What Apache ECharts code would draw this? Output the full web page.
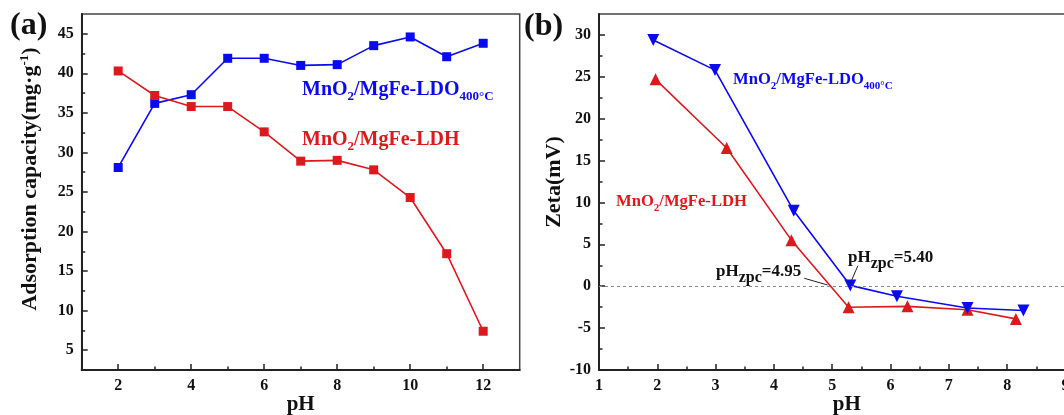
<!DOCTYPE html>
<html>
<head>
<meta charset="utf-8">
<script src="https://cdn.jsdelivr.net/npm/echarts@6/dist/echarts.min.js"></script>
<style>
html, body { margin: 0; padding: 0; background: #fff; }
#chart { width: 1064px; height: 415px; }
</style>
</head>
<body>
<div id="chart"></div>
<script>
// (a) adsorption capacity vs pH
const pHAdsorption = [2, 3, 4, 5, 6, 7, 8, 9, 10, 11, 12];
const capacityLdo = [28.1, 36.2, 37.3, 41.9, 41.9, 41.0, 41.1, 43.5, 44.6, 42.1, 43.8];
const capacityLdh = [40.3, 37.2, 35.8, 35.8, 32.6, 28.9, 29.0, 27.8, 24.3, 17.2, 7.4];

// (b) zeta potential vs pH
const pHZetaLdo = [1.93, 2.99, 4.34, 5.31, 6.11, 7.32, 8.28];
const zetaLdo = [29.4, 25.8, 9.0, 0.1, -1.2, -2.6, -2.9];
const pHZetaLdh = [1.97, 3.19, 4.30, 5.28, 6.29, 7.32, 8.15];
const zetaLdh = [24.7, 16.5, 5.5, -2.5, -2.4, -2.8, -3.9];

// tick values
const xTicksA = [2, 4, 6, 8, 10, 12];
const xMinorA = [3, 5, 7, 9, 11];
const yTicksA = [5, 10, 15, 20, 25, 30, 35, 40, 45];
const yMinorA = [7.5, 12.5, 17.5, 22.5, 27.5, 32.5, 37.5, 42.5];
const xTicksB = [1, 2, 3, 4, 5, 6, 7, 8, 9];
const xMinorB = [1.5, 2.5, 3.5, 4.5, 5.5, 6.5, 7.5, 8.5];
const yTicksB = [-10, -5, 0, 5, 10, 15, 20, 25, 30];
const yMinorB = [-7.5, -2.5, 2.5, 7.5, 12.5, 17.5, 22.5, 27.5];

// point-of-zero-charge annotation arrows (from curve crossing to label)
const arrowLdh = [[4.92, 0.15], [4.52, 0.95]];
const arrowLdo = [[5.31, 0.35], [5.44, 2.45]];

const BLUE = '#0a0af0';
const RED = '#dc1a1e';
const FONT = '"Liberation Serif", "Times New Roman", serif';

const chart = echarts.init(document.getElementById('chart'), null, { renderer: 'canvas' });

function zip(xs, ys) { return xs.map((x, i) => [x, ys[i]]); }

const tickLabel = { fontFamily: FONT, fontWeight: 'bold', fontSize: 16, color: '#111', margin: 8 };
const axisLine = { show: true, onZero: false, lineStyle: { color: '#222', width: 2 } };
const xName = { fontFamily: FONT, fontWeight: 'bold', fontSize: 21, color: '#111' };

function mainAxis(gridIndex, min, max, ticks, extra) {
  return Object.assign({
    type: 'value', gridIndex, min, max,
    axisLine,
    splitLine: { show: false },
    axisTick: { show: true, inside: true, length: 6, lineStyle: { color: '#222', width: 1.5 }, customValues: ticks },
    axisLabel: Object.assign({ customValues: ticks }, tickLabel),
    nameTextStyle: xName
  }, extra || {});
}
function minorAxis(gridIndex, min, max, ticks, position) {
  return {
    type: 'value', gridIndex, min, max, position,
    axisLine: { show: false, onZero: false },
    splitLine: { show: false },
    axisLabel: { show: false },
    axisTick: { show: true, inside: true, length: 3.5, lineStyle: { color: '#222', width: 1.5 }, customValues: ticks }
  };
}

function sub(size, color) {
  return { fontFamily: FONT, fontWeight: 'bold', fontSize: size, fill: color, lineHeight: size, verticalAlign: 'bottom' };
}
function main(size, color, extra) {
  return { fontFamily: FONT, fontWeight: 'bold', fontSize: size, fill: color, lineHeight: size + (extra || 6), verticalAlign: 'middle' };
}
function seriesText(x, y, size, color, tail, subSize) {
  return {
    type: 'text', x, y, z: 100,
    style: {
      text: '{m|MnO}{s|2}{m|/MgFe-' + tail.main + '}' + (tail.sub ? '{s|' + tail.sub + '}' : ''),
      verticalAlign: 'middle',
      rich: { m: main(size, color), s: sub(subSize, color) }
    }
  };
}
function zpcText(x, y, value) {
  return {
    type: 'text', x, y, z: 100,
    style: {
      text: '{m|pH}{s|zpc}{m|=' + value + '}',
      verticalAlign: 'middle',
      rich: { m: main(17, '#111', 10), s: sub(16, '#111') }
    }
  };
}

const pHName = { position: 'bottom', name: 'pH', nameLocation: 'middle', nameGap: 24, nameMoveOverlap: false };

const option = {
  animation: false,
  backgroundColor: '#fff',
  grid: [
    { left: 81.7, top: 14, width: 438, height: 356, outerBoundsMode: 'none', show: true, borderColor: '#444', borderWidth: 1.5 },
    { left: 599, top: 14, width: 495.6, height: 356, outerBoundsMode: 'none', show: true, borderColor: '#444', borderWidth: 1.5 }
  ],
  xAxis: [
    mainAxis(0, 1, 13, xTicksA, pHName),
    minorAxis(0, 1, 13, xMinorA, 'bottom'),
    mainAxis(1, 1, 9.5, xTicksB, pHName),
    minorAxis(1, 1, 9.5, xMinorB, 'bottom')
  ],
  yAxis: [
    mainAxis(0, 2.5, 47.5, yTicksA, {
      position: 'left',
      name: 'Adsorption capacity(mg·g{sup|-1})', nameLocation: 'middle', nameRotate: 90, nameGap: 38,
      nameTextStyle: {
        fontFamily: FONT, fontWeight: 'bold', fontSize: 22, color: '#111', lineHeight: 26,
        padding: [0, 0, 0, 26],
        rich: { sup: { fontFamily: FONT, fontWeight: 'bold', fontSize: 13, color: '#111', lineHeight: 13, verticalAlign: 'top' } }
      }
    }),
    minorAxis(0, 2.5, 47.5, yMinorA, 'left'),
    mainAxis(1, -10, 32.5, yTicksB, {
      position: 'left',
      name: 'Zeta(mV)', nameLocation: 'middle', nameRotate: 90, nameGap: 25,
      nameTextStyle: { fontFamily: FONT, fontWeight: 'bold', fontSize: 22, color: '#111', padding: [0, 0, 0, 20] }
    }),
    minorAxis(1, -10, 32.5, yMinorB, 'left')
  ],
  series: [
    {
      type: 'line', xAxisIndex: 0, yAxisIndex: 0,
      data: zip(pHAdsorption, capacityLdo),
      symbol: 'rect', symbolSize: 9,
      lineStyle: { color: BLUE, width: 1.6 }, itemStyle: { color: BLUE }
    },
    {
      type: 'line', xAxisIndex: 0, yAxisIndex: 0,
      data: zip(pHAdsorption, capacityLdh),
      symbol: 'rect', symbolSize: 9,
      lineStyle: { color: RED, width: 1.6 }, itemStyle: { color: RED }
    },
    {
      type: 'line', xAxisIndex: 2, yAxisIndex: 2,
      data: zip(pHZetaLdh, zetaLdh),
      symbol: 'triangle', symbolSize: 12,
      lineStyle: { color: RED, width: 1.6 }, itemStyle: { color: RED },
      markLine: {
        silent: true, symbol: ['none', 'arrow'], symbolSize: [0, 7],
        label: { show: false },
        lineStyle: { color: '#222', width: 1, type: 'solid' },
        data: [[{ coord: arrowLdh[0] }, { coord: arrowLdh[1] }]]
      }
    },
    {
      type: 'line', xAxisIndex: 2, yAxisIndex: 2,
      data: zip(pHZetaLdo, zetaLdo),
      symbol: 'triangle', symbolRotate: 180, symbolSize: 12,
      lineStyle: { color: BLUE, width: 1.6 }, itemStyle: { color: BLUE },
      markLine: {
        silent: true, symbol: ['none', 'arrow'], symbolSize: [0, 7],
        label: { show: false },
        lineStyle: { color: '#222', width: 1, type: 'solid' },
        data: [
          [{ coord: arrowLdo[0] }, { coord: arrowLdo[1] }],
          [{ yAxis: 0, x: 599, symbol: 'none', lineStyle: { color: '#888', type: [3, 3], width: 1 } },
           { yAxis: 0, x: 1100, symbol: 'none' }]
        ]
      }
    }
  ],
  graphic: [
    { type: 'text', x: 10, y: 26, style: { text: '(a)', fontFamily: FONT, fontWeight: 'bold', fontSize: 32, fill: '#111', verticalAlign: 'middle' } },
    { type: 'text', x: 524, y: 27, style: { text: '(b)', fontFamily: FONT, fontWeight: 'bold', fontSize: 32, fill: '#111', verticalAlign: 'middle' } },
    seriesText(302, 90, 20, BLUE, { main: 'LDO', sub: '400°C' }, 13),
    seriesText(302, 140, 20, RED, { main: 'LDH' }, 13),
    seriesText(733, 80, 16.6, BLUE, { main: 'LDO', sub: '400°C' }, 11),
    seriesText(616, 202, 16.6, RED, { main: 'LDH' }, 11),
    zpcText(716, 272, '4.95'),
    zpcText(848, 258, '5.40')
  ]
};

chart.setOption(option);
</script>
</body>
</html>
